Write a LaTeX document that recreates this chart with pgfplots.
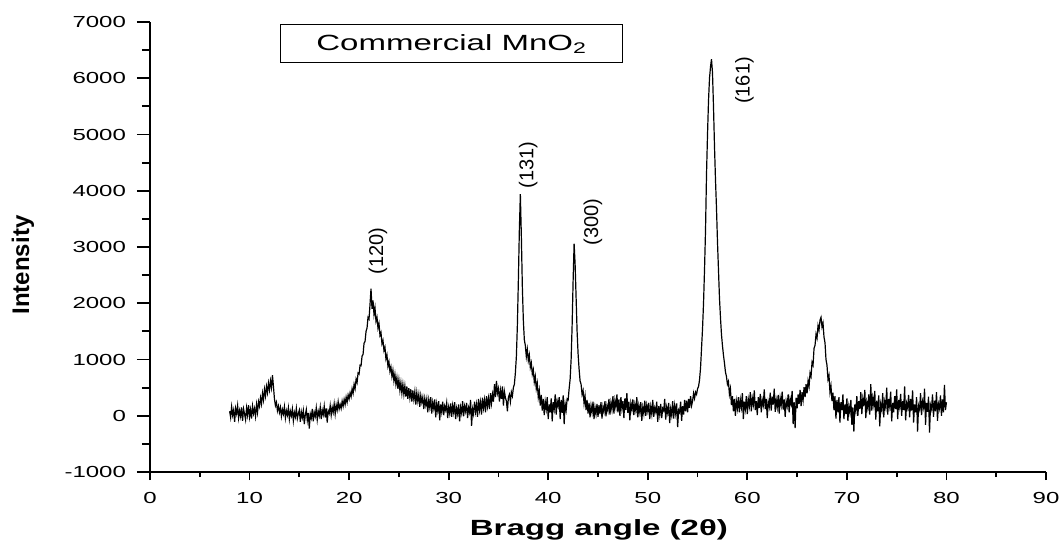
\documentclass[border=0pt]{standalone}
\usepackage{pgfplots}
\pgfplotsset{compat=1.18}
\usepackage{fontspec}
\setmainfont{Liberation Sans}[FakeStretch=1.5]
\newfontfamily\rotfont{Liberation Sans}
\begin{document}
\begin{tikzpicture}
\pgfplotsset{
  common/.style={
    at={(0,0)}, anchor=south west,
    scale only axis, width=448pt, height=225pt,
    xmin=0, xmax=90, ymin=-1000, ymax=7000,
    xtick={0,10,...,90}, ytick={-1000,0,...,7000},
    minor x tick num=1, minor y tick num=1,
    tick align=outside,
    axis line style={line width=0.9pt, black},
    every tick/.style={line width=0.9pt, black},
    ticklabel style={font=\fontsize{8}{9}\selectfont},
    yticklabel style={xshift=-2pt},
    xticklabel style={yshift=-2.5pt},
    /pgf/number format/assume math mode=true,
    /pgf/number format/1000 sep={},
    clip=false,
  }
}
% y axis only
\begin{axis}[common,
  axis x line=none, axis y line*=left,
  major tick length=6.5pt, minor tick length=4pt,
  ylabel={\rotfont\fontsize{12}{14}\selectfont\bfseries Intensity},
  ylabel style={at={(axis description cs:-0.1417,0.46)}, anchor=center},
]
\end{axis}
% x axis and data
\begin{axis}[common,
  axis y line=none, axis x line*=bottom,
  major tick length=4pt, minor tick length=2.5pt,
  xlabel={\fontsize{11}{13}\selectfont\bfseries Bragg angle (2θ)},
  xlabel style={at={(axis description cs:0.501,0)}, anchor=base, yshift=-31.5pt},
]
\addplot[black, line width=0.6pt, mark=none] coordinates {
(8.0,80)(8.1,-30)(8.2,160)(8.3,10)(8.4,100)(8.5,-110)(8.6,130)(8.7,40)(8.8,180)(8.9,-40)
(9.0,90)(9.1,-10)(9.2,150)(9.3,-90)(9.4,120)(9.5,30)(9.6,-70)(9.7,140)(9.8,10)(9.9,190)
(10.0,-20)(10.1,110)(10.2,-50)(10.3,170)(10.4,40)(10.5,130)(10.6,-10)(10.7,200)(10.8,60)(10.9,250)
(11.0,170)(11.1,320)(11.2,210)(11.3,400)(11.4,280)(11.5,470)(11.6,350)(11.7,520)(11.8,410)(11.9,580)
(12.0,460)(12.1,620)(12.2,500)(12.3,720)(12.4,520)(12.5,300)(12.6,180)(12.7,240)(12.8,90)(12.9,170)
(13.0,60)(13.1,150)(13.2,-10)(13.3,110)(13.4,30)(13.5,160)(13.6,-40)(13.7,90)(13.8,10)(13.9,140)
(14.0,-60)(14.1,80)(14.2,0)(14.3,120)(14.4,-90)(14.5,60)(14.6,-20)(14.7,130)(14.8,-50)(14.9,40)
(15.0,100)(15.1,-110)(15.2,70)(15.3,-30)(15.4,90)(15.5,-150)(15.6,20)(15.7,110)(15.8,-80)(15.9,50)
(16.0,-230)(16.1,30)(16.2,-40)(16.3,120)(16.4,-100)(16.5,60)(16.6,-10)(16.7,140)(16.8,-70)(16.9,80)
(17.0,0)(17.1,150)(17.2,-60)(17.3,100)(17.4,20)(17.5,170)(17.6,-30)(17.7,130)(17.8,-120)(17.9,90)
(18.0,40)(18.1,180)(18.2,10)(18.3,150)(18.4,60)(18.5,210)(18.6,30)(18.7,190)(18.8,100)(18.9,250)
(19.0,120)(19.1,200)(19.2,130)(19.3,260)(19.4,170)(19.5,290)(19.6,200)(19.7,330)(19.8,240)(19.9,370)
(20.0,300)(20.1,410)(20.2,340)(20.3,480)(20.4,400)(20.5,560)(20.6,480)(20.7,650)(20.8,590)(20.9,760)
(21.0,740)(21.1,900)(21.2,890)(21.3,1060)(21.4,1090)(21.5,1290)(21.6,1320)(21.7,1500)(21.8,1560)(21.9,1750)
(22.0,1720)(22.1,1980)(22.2,2260)(22.3,1900)(22.4,2050)(22.5,1800)(22.6,1920)(22.7,1680)(22.8,1750)(22.9,1560)
(23.0,1640)(23.1,1430)(23.2,1480)(23.3,1280)(23.4,1340)(23.5,1160)(23.6,1220)(23.7,1010)(23.8,1080)(23.9,880)
(24.0,960)(24.1,790)(24.2,870)(24.3,700)(24.4,810)(24.5,620)(24.6,740)(24.7,560)(24.8,680)(24.9,480)
(25.0,640)(25.1,450)(25.2,590)(25.3,400)(25.4,560)(25.5,380)(25.6,530)(25.7,340)(25.8,520)(25.9,300)
(26.0,490)(26.1,320)(26.2,470)(26.3,250)(26.4,450)(26.5,290)(26.6,430)(26.7,200)(26.8,410)(26.9,260)
(27.0,380)(27.1,160)(27.2,360)(27.3,240)(27.4,330)(27.5,120)(27.6,310)(27.7,190)(27.8,300)(27.9,60)
(28.0,280)(28.1,150)(28.2,330)(28.3,40)(28.4,240)(28.5,130)(28.6,290)(28.7,-30)(28.8,210)(28.9,90)
(29.0,260)(29.1,-80)(29.2,200)(29.3,70)(29.4,250)(29.5,10)(29.6,170)(29.7,100)(29.8,230)(29.9,-40)
(30.0,150)(30.1,40)(30.2,220)(30.3,-20)(30.4,180)(30.5,60)(30.6,240)(30.7,-60)(30.8,130)(30.9,30)
(31.0,200)(31.1,-100)(31.2,150)(31.3,50)(31.4,260)(31.5,-10)(31.6,170)(31.7,80)(31.8,230)(31.9,-40)
(32.0,140)(32.1,60)(32.2,280)(32.3,-180)(32.4,120)(32.5,30)(32.6,250)(32.7,70)(32.8,200)(32.9,-20)
(33.0,300)(33.1,100)(33.2,240)(33.3,20)(33.4,320)(33.5,140)(33.6,280)(33.7,60)(33.8,350)(33.9,170)
(34.0,310)(34.1,120)(34.2,400)(34.3,220)(34.4,380)(34.5,250)(34.6,560)(34.7,330)(34.8,620)(34.9,400)
(35.0,480)(35.1,250)(35.2,450)(35.3,300)(35.4,520)(35.5,180)(35.6,430)(35.7,320)(35.8,260)(35.9,80)
(36.0,330)(36.1,380)(36.2,250)(36.3,420)(36.4,350)(36.5,500)(36.6,560)(36.7,760)(36.8,1050)(36.9,1600)
(37.0,2400)(37.1,3300)(37.2,3940)(37.3,3200)(37.4,2300)(37.5,1700)(37.6,1350)(37.7,1250)(37.8,1050)(37.9,1180)
(38.0,980)(38.1,1080)(38.2,860)(38.3,940)(38.4,740)(38.5,820)(38.6,600)(38.7,700)(38.8,480)(38.9,580)
(39.0,330)(39.1,450)(39.2,180)(39.3,370)(39.4,90)(39.5,300)(39.6,10)(39.7,250)(39.8,120)(39.9,330)
(40.0,-60)(40.1,200)(40.2,60)(40.3,310)(40.4,-100)(40.5,240)(40.6,120)(40.7,380)(40.8,20)(40.9,260)
(41.0,170)(41.1,330)(41.2,-60)(41.3,280)(41.4,50)(41.5,360)(41.6,-150)(41.7,210)(41.8,100)(41.9,300)
(42.0,280)(42.1,480)(42.2,650)(42.3,1000)(42.4,1600)(42.5,2400)(42.6,3060)(42.7,2700)(42.8,2100)(42.9,1500)
(43.0,1100)(43.1,830)(43.2,620)(43.3,560)(43.4,380)(43.5,450)(43.6,220)(43.7,350)(43.8,100)(43.9,280)
(44.0,40)(44.1,230)(44.2,-30)(44.3,180)(44.4,60)(44.5,250)(44.6,-60)(44.7,150)(44.8,30)(44.9,210)
(45.0,-20)(45.1,190)(45.2,30)(45.3,240)(45.4,-50)(45.5,160)(45.6,70)(45.7,260)(45.8,-10)(45.9,180)
(46.0,90)(46.1,300)(46.2,20)(46.3,230)(46.4,110)(46.5,350)(46.6,40)(46.7,270)(46.8,150)(46.9,380)
(47.0,60)(47.1,290)(47.2,0)(47.3,330)(47.4,130)(47.5,260)(47.6,-40)(47.7,310)(47.8,100)(47.9,400)
(48.0,50)(48.1,250)(48.2,-80)(48.3,220)(48.4,110)(48.5,290)(48.6,10)(48.7,200)(48.8,90)(48.9,330)
(49.0,-30)(49.1,180)(49.2,60)(49.3,240)(49.4,-90)(49.5,150)(49.6,40)(49.7,270)(49.8,0)(49.9,190)
(50.0,80)(50.1,230)(50.2,-60)(50.3,160)(50.4,30)(50.5,280)(50.6,-20)(50.7,140)(50.8,70)(50.9,250)
(51.0,-110)(51.1,170)(51.2,20)(51.3,210)(51.4,-40)(51.5,130)(51.6,90)(51.7,300)(51.8,-70)(51.9,150)
(52.0,50)(52.1,230)(52.2,-130)(52.3,120)(52.4,10)(52.5,260)(52.6,-50)(52.7,180)(52.8,40)(52.9,220)
(53.0,-200)(53.1,100)(53.2,60)(53.3,250)(53.4,-90)(53.5,170)(53.6,20)(53.7,280)(53.8,80)(53.9,270)
(54.0,60)(54.1,300)(54.2,140)(54.3,350)(54.4,180)(54.5,260)(54.6,400)(54.7,310)(54.8,420)(54.9,380)
(55.0,480)(55.1,520)(55.2,640)(55.3,850)(55.4,1200)(55.5,1550)(55.6,2000)(55.7,2600)(55.8,3300)(55.9,4300)
(56.0,5000)(56.1,5600)(56.2,6000)(56.3,6200)(56.4,6340)(56.5,6100)(56.6,5500)(56.7,4800)(56.8,4200)(56.9,3700)
(57.0,3100)(57.1,2600)(57.2,2100)(57.3,1750)(57.4,1450)(57.5,1250)(57.6,1080)(57.7,940)(57.8,780)(57.9,700)
(58.0,560)(58.1,610)(58.2,380)(58.3,480)(58.4,190)(58.5,350)(58.6,80)(58.7,300)(58.8,0)(58.9,260)
(59.0,130)(59.1,330)(59.2,60)(59.3,280)(59.4,150)(59.5,400)(59.6,-60)(59.7,250)(59.8,120)(59.9,350)
(60.0,30)(60.1,290)(60.2,170)(60.3,420)(60.4,80)(60.5,310)(60.6,200)(60.7,450)(60.8,100)(60.9,260)
(61.0,10)(61.1,330)(61.2,140)(61.3,390)(61.4,60)(61.5,280)(61.6,190)(61.7,470)(61.8,120)(61.9,300)
(62.0,-40)(62.1,250)(62.2,160)(62.3,410)(62.4,90)(62.5,340)(62.6,200)(62.7,480)(62.8,70)(62.9,280)
(63.0,150)(63.1,370)(63.2,40)(63.3,310)(63.4,190)(63.5,430)(63.6,110)(63.7,290)(63.8,-20)(63.9,260)
(64.0,170)(64.1,380)(64.2,60)(64.3,300)(64.4,210)(64.5,440)(64.6,-150)(64.7,240)(64.8,-220)(64.9,320)
(65.0,130)(65.1,380)(65.2,210)(65.3,460)(65.4,170)(65.5,420)(65.6,280)(65.7,510)(65.8,330)(65.9,560)
(66.0,400)(66.1,620)(66.2,520)(66.3,760)(66.4,700)(66.5,950)(66.6,900)(66.7,1200)(66.8,1250)(66.9,1450)
(67.0,1380)(67.1,1600)(67.2,1520)(67.3,1700)(67.4,1750)(67.5,1580)(67.6,1650)(67.7,1400)(67.8,1300)(67.9,1000)
(68.0,900)(68.1,650)(68.2,720)(68.3,420)(68.4,530)(68.5,260)(68.6,410)(68.7,100)(68.8,350)(68.9,-50)
(69.0,280)(69.1,60)(69.2,330)(69.3,-120)(69.4,240)(69.5,100)(69.6,380)(69.7,-60)(69.8,200)(69.9,30)
(70.0,310)(70.1,-90)(70.2,170)(70.3,60)(70.4,280)(70.5,-160)(70.6,150)(70.7,-280)(70.8,200)(70.9,90)
(71.0,350)(71.1,0)(71.2,260)(71.3,120)(71.4,420)(71.5,30)(71.6,300)(71.7,170)(71.8,460)(71.9,-40)
(72.0,240)(72.1,130)(72.2,380)(72.3,20)(72.4,560)(72.5,90)(72.6,320)(72.7,190)(72.8,440)(72.9,-70)
(73.0,270)(73.1,80)(73.2,360)(73.3,-190)(73.4,210)(73.5,110)(73.6,400)(73.7,-30)(73.8,250)(73.9,150)
(74.0,500)(74.1,20)(74.2,300)(74.3,170)(74.4,430)(74.5,-100)(74.6,230)(74.7,60)(74.8,350)(74.9,120)
(75.0,470)(75.1,-60)(75.2,280)(75.3,160)(75.4,390)(75.5,0)(75.6,260)(75.7,100)(75.8,520)(75.9,-80)
(76.0,220)(76.1,140)(76.2,370)(76.3,-30)(76.4,300)(76.5,90)(76.6,450)(76.7,-120)(76.8,200)(76.9,60)
(77.0,330)(77.1,-280)(77.2,180)(77.3,110)(77.4,400)(77.5,10)(77.6,250)(77.7,150)(77.8,480)(77.9,-160)
(78.0,230)(78.1,70)(78.2,340)(78.3,-300)(78.4,190)(78.5,120)(78.6,380)(78.7,-20)(78.8,270)(78.9,80)
(79.0,420)(79.1,-90)(79.2,210)(79.3,130)(79.4,360)(79.5,0)(79.6,290)(79.7,60)(79.8,550)(79.9,100)
(80.0,240)
};
\node[draw, line width=0.5pt, minimum width=171pt, minimum height=19pt, inner sep=0pt,
      font=\fontsize{11}{12}\selectfont] at (axis cs:30.3,6613) {Commercial MnO\textsubscript{2}};
\node[rotate=90, inner sep=0pt, font=\rotfont\fontsize{10}{12}\selectfont] at (axis cs:22.9,2930) {(120)};
\node[rotate=90, inner sep=0pt, font=\rotfont\fontsize{10}{12}\selectfont] at (axis cs:38.0,4460) {(131)};
\node[rotate=90, inner sep=0pt, font=\rotfont\fontsize{10}{12}\selectfont] at (axis cs:44.5,3450) {(300)};
\node[rotate=90, inner sep=0pt, font=\rotfont\fontsize{10}{12}\selectfont] at (axis cs:59.7,5960) {(161)};
\end{axis}
\pgfresetboundingbox
\path (-75pt,-34pt) rectangle (456.5pt,236pt);
\end{tikzpicture}
\end{document}
